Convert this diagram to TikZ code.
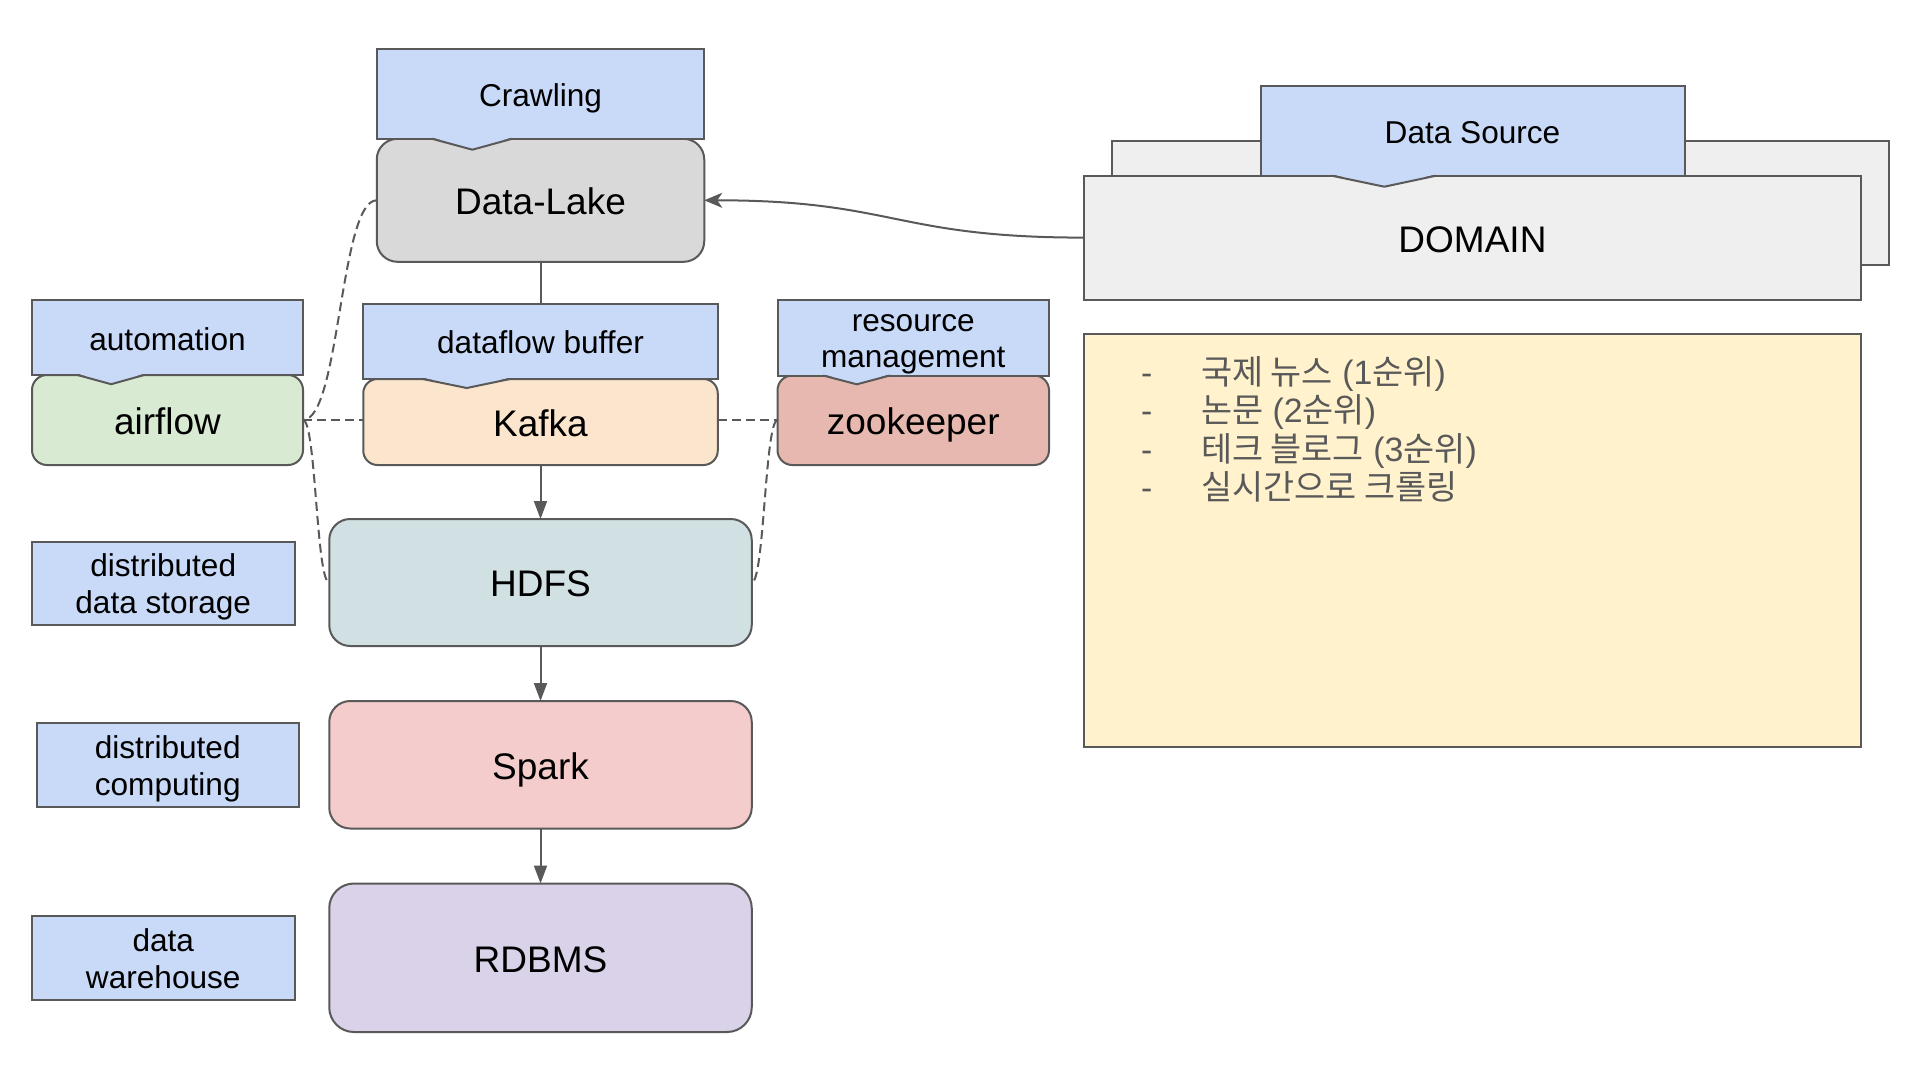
\documentclass[tikz,border=0pt]{standalone}
\usepackage{fontspec}
\setmainfont{Liberation Sans}
\newfontfamily\krfont{Noto Sans CJK KR}
\usetikzlibrary{arrows.meta,calc}
\definecolor{edge}{HTML}{595959}
\definecolor{tagblue}{HTML}{C9DAF8}
\definecolor{lakegrey}{HTML}{D9D9D9}
\definecolor{airgreen}{HTML}{D9EAD3}
\definecolor{kafkaorange}{HTML}{FCE5CD}
\definecolor{zkred}{HTML}{E6B8AF}
\definecolor{hdfscyan}{HTML}{D0E0E3}
\definecolor{sparkred}{HTML}{F4CCCC}
\definecolor{rdbpurple}{HTML}{D9D2E9}
\definecolor{domgrey}{HTML}{EFEFEF}
\definecolor{noteyellow}{HTML}{FFF2CC}
\definecolor{txtgrey}{HTML}{595959}
\tikzset{
  box/.style={draw=edge, line width=2pt, outer sep=0pt, inner sep=0pt,
    font=\fontsize{37}{42}\selectfont, text=black, text height=33.9pt, text depth=5.1pt},
  rbox/.style={box, rounded corners=#1},
  tagbox/.style={box, fill=tagblue, font=\fontsize{31.6}{36.5}\selectfont, align=center,
    text height=28.3pt, text depth=3.3pt},
  tagtwo/.style={tagbox, text height=64.8pt, text depth=4.8pt},
  conn/.style={draw=edge, line width=2pt},
  dconn/.style={conn, dash pattern=on 9pt off 5pt},
  arr/.style={conn, -{Triangle[length=18pt,width=13pt]}},
  krline/.style={anchor=base west, inner sep=0pt, outer sep=0pt, text=txtgrey,
    font=\fontsize{33.8}{39}\selectfont},
}
\newcommand\mynotch[2]{%
  \fill[tagblue] ($(#1.south west)!0.168!(#1.south east)+(0,-1.4)$) --
    ($(#1.south west)!0.414!(#1.south east)+(0,-1.4)$) --
    ($(#1.south west)!0.292!(#1.south east)+(0,#2)$) -- cycle;
  \draw[conn, line join=miter] ($(#1.south west)!0.168!(#1.south east)$) --
    ($(#1.south west)!0.292!(#1.south east)+(0,#2)$) --
    ($(#1.south west)!0.414!(#1.south east)$);
}
\begin{document}
\begin{tikzpicture}[x=1pt,y=-1pt]
\useasboundingbox (0,0) rectangle (1919,1079);
\fill[white] (0,0) rectangle (1919,1079);

% right side: domain
\node[box, fill=domgrey, minimum width=776.8pt, minimum height=124.2pt] (shadow) at (1500.4,203.1) {};
\node[box, fill=domgrey, minimum width=776.3pt, minimum height=123.8pt] (dom) at (1472.45,237.6) {DOMAIN};
\node[tagbox, minimum width=424pt, minimum height=90.2pt] (src) at (1472.5,130.6) {Data Source};
\mynotch{src}{11}
\node[box, fill=noteyellow, minimum width=776.2pt, minimum height=412.7pt] (note) at (1472.4,540.3) {};
\node[krline] (d1) at (1141,384.5) {-};
\node[krline] (d2) at (1141,422.8) {-};
\node[krline] (d3) at (1141,461.1) {-};
\node[krline] (d4) at (1141,499.4) {-};
\node[krline] (k1) at (1201,384.5) {{\krfont 국제 뉴스} (1{\krfont 순위})};
\node[krline] (k2) at (1201,422.8) {{\krfont 논문} (2{\krfont 순위})};
\node[krline] (k3) at (1201,461.1) {{\krfont 테크 블로그} (3{\krfont 순위})};
\node[krline] (k4) at (1201,499.4) {{\krfont 실시간으로 크롤링}};

% data lake
\node[rbox=20.7pt, fill=lakegrey, minimum width=327.5pt, minimum height=123pt] (dl) at (540.5,200.3) {Data-Lake};
\node[tagbox, minimum width=327.5pt, minimum height=89.8pt] (crawl) at (540.5,93.8) {Crawling};
\mynotch{crawl}{11}

% airflow
\node[rbox=15pt, fill=airgreen, minimum width=271pt, minimum height=90pt] (air) at (167.5,420) {airflow};
\node[tagbox, minimum width=271pt, minimum height=75pt] (auto) at (167.5,337.5) {automation};
\mynotch{auto}{9.2}

% kafka
\node[rbox=14.3pt, fill=kafkaorange, minimum width=354.5pt, minimum height=86pt] (kafka) at (540.5,422) {Kafka};
\node[tagbox, minimum width=354.5pt, minimum height=75.5pt] (dfb) at (540.5,341.25) {dataflow buffer};
\mynotch{dfb}{9}

% zookeeper
\node[rbox=14.8pt, fill=zkred, minimum width=271.5pt, minimum height=89.5pt] (zk) at (913.25,420.25) {zookeeper};
\node[tagtwo, minimum width=271.5pt, minimum height=75.5pt] (res) at (913.25,337.75) {resource\\management};
\mynotch{res}{8.8}

% lower stack
\node[rbox=21pt, fill=hdfscyan, minimum width=422.5pt, minimum height=127pt] (hdfs) at (540.5,582.5) {HDFS};
\node[rbox=21pt, fill=sparkred, minimum width=422.5pt, minimum height=127.5pt] (spark) at (540.5,764.75) {Spark};
\node[rbox=24.7pt, fill=rdbpurple, minimum width=422.5pt, minimum height=148.5pt] (rdb) at (540.5,957.75) {RDBMS};

\node[tagtwo, minimum width=262.5pt, minimum height=83pt] (dds) at (163.25,583) {distributed\\data storage};
\node[tagtwo, minimum width=262pt, minimum height=84pt] (dc) at (167.75,765) {distributed\\computing};
\node[tagtwo, minimum width=262.5pt, minimum height=84pt] (dw) at (163.25,958) {data\\warehouse};

% connectors
\draw[conn] (dl.south) -- (dfb.north);
\draw[arr] (kafka.south) -- (hdfs.north);
\draw[arr] (hdfs.south) -- (spark.north);
\draw[arr] (spark.south) -- (rdb.north);
\draw[conn, -{Stealth[length=18pt,width=15pt,inset=5pt]}] (dom.west) .. controls +(-190,0) and +(190,0) .. (dl.east);

\draw[dconn] (air.east) -- (air.east -| kafka.west);
\draw[dconn] (kafka.east |- zk.west) -- (zk.west);
\draw[dconn] (dl.west) .. controls +(-37,0) and +(37,0) .. (air.east);
\draw[dconn] (air.east) .. controls +(13,0) and +(-13,0) .. (hdfs.west);
\draw[dconn] (zk.west) .. controls +(-12.5,0) and +(12.5,0) .. (hdfs.east);
\end{tikzpicture}
\end{document}
